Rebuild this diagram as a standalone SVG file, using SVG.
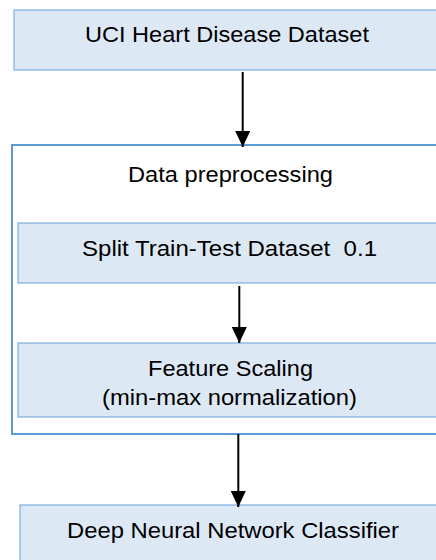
<svg xmlns="http://www.w3.org/2000/svg" width="436" height="560" viewBox="0 0 436 560">
<style>
.box{fill:#dde8f5;stroke:#7eaee0;stroke-width:1.2}
.group{fill:#ffffff;stroke:#5b9bd5;stroke-width:2}
.lbl{font-family:"Liberation Sans",Arial,sans-serif;font-size:22px;fill:#000;text-anchor:middle}
.conn{stroke:#000;stroke-width:2;fill:none}
</style>
<defs>
<marker id="ah" markerWidth="8" markerHeight="7.5" refX="8" refY="3.75" orient="auto" markerUnits="strokeWidth">
<path d="M0,0 L8,3.75 L0,7.5 Z" fill="#000"/>
</marker>
</defs>
<rect width="436" height="560" fill="#fff"/>
<g id="n-uci">
<rect class="box" x="14" y="10" width="440" height="60"/>
<text class="lbl" x="227" y="42" textLength="284" lengthAdjust="spacingAndGlyphs">UCI Heart Disease Dataset</text>
</g>
<g id="n-preprocessing">
<rect class="group" x="12" y="145" width="440" height="289"/>
<text class="lbl" x="230.5" y="182" textLength="205" lengthAdjust="spacingAndGlyphs">Data preprocessing</text>
</g>
<g id="n-split">
<rect class="box" x="18" y="223" width="430" height="60"/>
<text class="lbl" x="229.5" y="256" textLength="295" lengthAdjust="spacingAndGlyphs" xml:space="preserve">Split Train-Test Dataset  0.1</text>
</g>
<g id="n-scaling">
<rect class="box" x="18" y="343" width="430" height="74"/>
<text class="lbl" x="230.5" y="376" textLength="165" lengthAdjust="spacingAndGlyphs">Feature Scaling</text>
<text class="lbl" x="229.5" y="405" textLength="255" lengthAdjust="spacingAndGlyphs">(min-max normalization)</text>
</g>
<g id="n-dnn">
<rect class="box" x="20" y="505" width="430" height="70"/>
<text class="lbl" x="233" y="538" textLength="332" lengthAdjust="spacingAndGlyphs">Deep Neural Network Classifier</text>
</g>
<g id="connectors">
<line class="conn" x1="242.7" y1="72" x2="242.7" y2="147" marker-end="url(#ah)"/>
<line class="conn" x1="239.3" y1="286" x2="239.3" y2="343" marker-end="url(#ah)"/>
<line class="conn" x1="238.3" y1="434" x2="238.3" y2="507" marker-end="url(#ah)"/>
</g>
</svg>
